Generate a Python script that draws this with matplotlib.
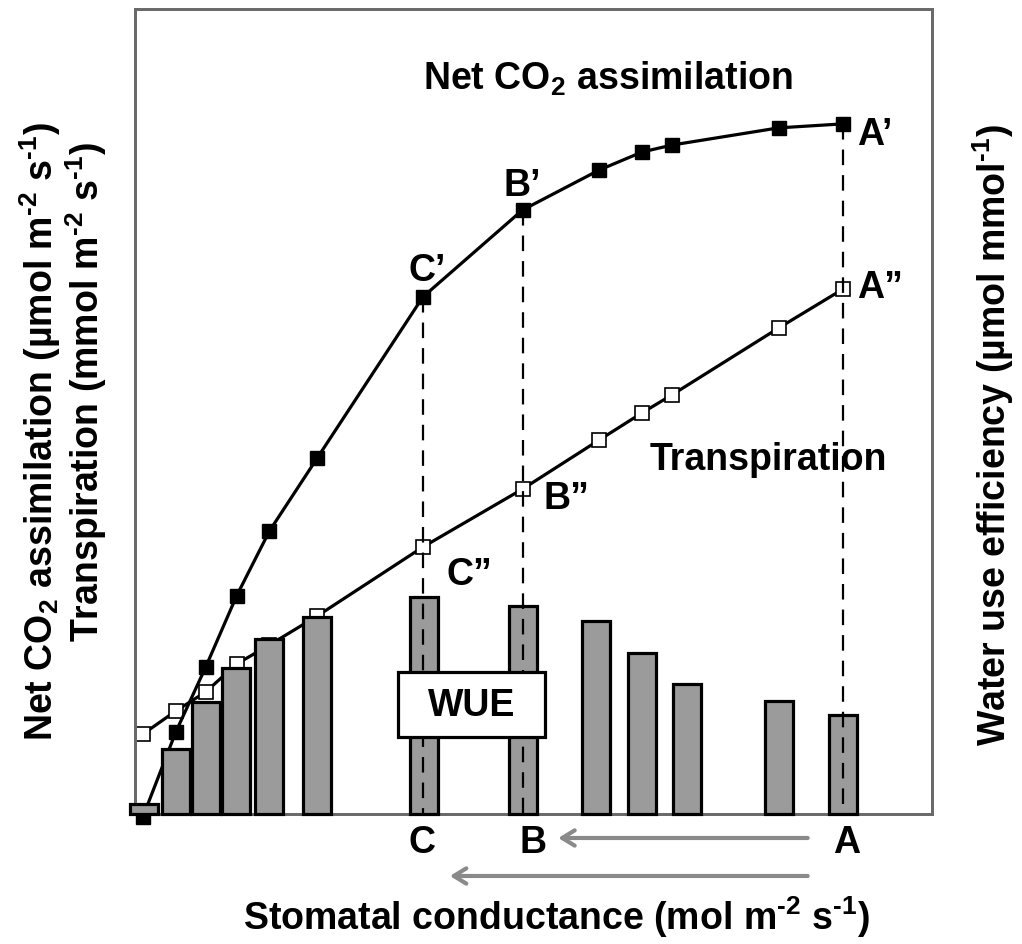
import matplotlib
matplotlib.use("Agg")
import matplotlib.pyplot as plt
from matplotlib.patches import Rectangle

plt.rcParams["font.family"] = "Liberation Sans"
plt.rcParams["font.weight"] = "bold"
plt.rcParams["mathtext.fontset"] = "custom"
plt.rcParams["mathtext.rm"] = "Liberation Sans:bold"
plt.rcParams["mathtext.bf"] = "Liberation Sans:bold"
plt.rcParams["mathtext.it"] = "Liberation Sans:bold"
plt.rcParams["mathtext.default"] = "rm"

# Stomatal conductance (mol m-2 s-1) of the gas-exchange points
conductance = [0.008, 0.041, 0.071, 0.102, 0.135, 0.183, 0.289, 0.389,
               0.466, 0.509, 0.539, 0.646, 0.711]
# Net CO2 assimilation (left axis)
assimilation = [-0.1, 3.06, 5.48, 8.13, 10.55, 13.27, 19.27, 22.51,
                24.0, 24.67, 24.93, 25.57, 25.72]
# Transpiration (left axis)
transpiration = [2.98, 3.84, 4.55, 5.59, 6.30, 7.38, 9.95, 12.11,
                 13.94, 14.95, 15.62, 18.11, 19.57]
# Conductance at which each WUE bar is drawn
wue_conductance = [0.009, 0.041, 0.071, 0.101, 0.1345, 0.183, 0.290, 0.3895,
                   0.463, 0.509, 0.554, 0.646, 0.711]
# Water use efficiency (right axis)
wue = [0.12, 0.81, 1.39, 1.81, 2.17, 2.45, 2.70, 2.58, 2.40, 2.00,
       1.61, 1.40, 1.23]
# Reference points along the conductance gradient
ref_names = ["C", "B", "A"]
ref_index = [6, 7, 12]

FS = 27
SUP2 = "$^{\u20102}$"
SUP1 = "$^{\u20101}$"

fig = plt.figure(figsize=(10.22, 9.45), dpi=100)
ax = fig.add_axes([135 / 1022, 1 - 815 / 945, 797 / 1022, 805 / 945])
ax2 = ax.twinx()

ax.set_xlim(0, 0.8)
ax.set_ylim(0, 30)
ax2.set_ylim(0, 10)
for a in (ax, ax2):
    a.set_xticks([])
    a.set_yticks([])
    for s in a.spines.values():
        s.set_color("#6a6a6a")
        s.set_linewidth(2.0)

# curves (behind the WUE bars)
ax.plot(conductance, transpiration, color="black", lw=2.3, marker="s",
        ms=10, mfc="white", mec="black", mew=1.2, zorder=2, clip_on=False)
ax.plot(conductance, assimilation, color="black", lw=2.3, marker="s",
        ms=10, mfc="black", mec="black", zorder=2, clip_on=False)

# WUE bars
ax2.bar(wue_conductance, wue, width=0.028, color="#9b9b9b", edgecolor="black",
        linewidth=2.3, zorder=3, clip_on=False)

# dashed drop lines from the reference points
for i in ref_index:
    ax2.plot([conductance[i], conductance[i]], [assimilation[i], 0],
             transform=ax.transData, color="black", lw=1.6,
             dashes=(7, 4.5), zorder=4)
ax2.set_ylim(0, 10)

# WUE box
ax2.add_patch(Rectangle((0.330, 0.0957), 0.1844, 0.0807,
                        transform=ax2.transAxes, fc="white", ec="black",
                        lw=2.3, zorder=5))
ax2.text(0.4222, 0.136, "WUE", transform=ax2.transAxes, ha="center",
         va="center", fontsize=FS, fontweight="bold", zorder=6)

# point labels
prime_offsets = {6: (4, 17), 7: (0, 15), 12: (14, -20)}
dprime_offsets = {6: (24, -37), 7: (21, -19), 12: (14, -8)}
for name, i in zip(ref_names, ref_index):
    dx, dy = prime_offsets[i]
    ax2.annotate(name + "\u2019", xy=(conductance[i], assimilation[i]),
                 xycoords=ax.transData, xytext=(dx, dy),
                 textcoords="offset pixels",
                 ha="left" if i == 12 else "center", va="baseline",
                 fontsize=FS, zorder=6)
    dx, dy = dprime_offsets[i]
    ax2.annotate(name + "\u201d", xy=(conductance[i], transpiration[i]),
                 xycoords=ax.transData, xytext=(dx, dy),
                 textcoords="offset pixels", ha="left", va="baseline",
                 fontsize=FS, zorder=6)

under_dx = {6: -1, 7: 11, 12: 3}
for name, i in zip(ref_names, ref_index):
    ax.annotate(name, xy=(conductance[i], 0), xycoords=("data", "axes fraction"),
                xytext=(under_dx[i], -38), textcoords="offset pixels",
                ha="center", va="baseline", fontsize=FS, annotation_clip=False)

# direction arrows
arrow_kw = dict(arrowstyle="->,head_length=0.9,head_width=0.55",
                color="#8a8a8a", lw=3.0, shrinkA=0, shrinkB=0)
ax.annotate("", xy=(0.531, -0.0298), xytext=(0.844, -0.0298),
            xycoords="axes fraction", textcoords="axes fraction",
            arrowprops=arrow_kw, annotation_clip=False)
ax.annotate("", xy=(0.395, -0.077), xytext=(0.844, -0.077),
            xycoords="axes fraction", textcoords="axes fraction",
            arrowprops=arrow_kw, annotation_clip=False)

# series names
ax2.text(0.5935, 0.9006, "Net CO$_2$ assimilation", transform=ax2.transAxes,
         ha="center", va="baseline", fontsize=FS)
ax2.text(0.646, 0.4286, "Transpiration", transform=ax2.transAxes,
         ha="left", va="baseline", fontsize=FS)

# axis titles
fig.text(556 / 1022, 1 - 930 / 945,
         "Stomatal conductance (mol m" + SUP2 + " s" + SUP1 + ")",
         ha="center", va="baseline", fontsize=FS)
fig.text(40 / 1022, 1 - 432 / 945,
         "Net CO$_2$ assimilation (\u00b5mol m" + SUP2 + " s" + SUP1 + ")",
         rotation=90, ha="center", va="center", fontsize=FS)
fig.text(86 / 1022, 1 - 392 / 945,
         "Transpiration (mmol m" + SUP2 + " s" + SUP1 + ")",
         rotation=90, ha="center", va="center", fontsize=FS)
fig.text(993 / 1022, 1 - 435 / 945,
         "Water use efficiency (\u00b5mol mmol" + SUP1 + ")",
         rotation=90, ha="center", va="center", fontsize=FS)

fig.savefig("out.png", dpi=100, facecolor="white")
